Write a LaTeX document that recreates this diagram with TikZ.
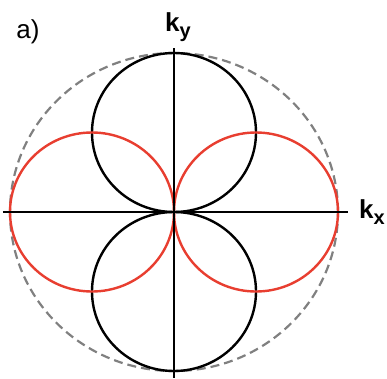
\documentclass[tikz,border=0pt]{standalone}
\usepackage{fontspec}
\setmainfont{Liberation Sans}
\usepackage{xcolor}
\usetikzlibrary{positioning}
\definecolor{lobered}{RGB}{232,62,48}
\definecolor{fsgray}{RGB}{128,128,128}
\newcommand{\ksub}[1]{k\raisebox{-0.22em}{\fontsize{20}{20}\selectfont #1}}

\begin{document}
\begin{tikzpicture}[
    x=1pt, y=1pt,
    axis/.style={draw=black, line width=1.4pt},
    lobe/.style={draw=black, line width=2.4pt},
    redlobe/.style={draw=lobered, line width=2.4pt},
    fermi/.style={draw=fsgray, line width=2.2pt, dash pattern=on 9pt off 5pt},
    lbl/.style={font=\fontsize{26}{28}\selectfont\bfseries, inner sep=0pt}
]
\useasboundingbox (-174,-166) rectangle (213,212);

\coordinate (O) at (0,0);
\coordinate (xl) at (-171,0);
\coordinate (xr) at (174,0);
\coordinate (yt) at (0,164);
\coordinate (yb) at (0,-166);

\draw[fermi] (O) ellipse [x radius=164, y radius=159];

\draw[lobe] (0,79.5) ellipse [x radius=82, y radius=79.5];
\draw[lobe] (0,-79.5) ellipse [x radius=82, y radius=79.5];
\draw[redlobe] (-82,0) ellipse [x radius=82, y radius=79.5];
\draw[redlobe] (82,0) ellipse [x radius=82, y radius=79.5];

\draw[axis] (xl) -- (xr);
\draw[axis] (yt) -- (yb);

\node[lbl] (ky) at (4,185) {\ksub{y}};
\node[lbl, right=11pt of xr] (kx) {\ksub{x}};
\node[font=\fontsize{26}{28}\selectfont, inner sep=0pt] (panel) at (-146,180) {a)};
\end{tikzpicture}
\end{document}
